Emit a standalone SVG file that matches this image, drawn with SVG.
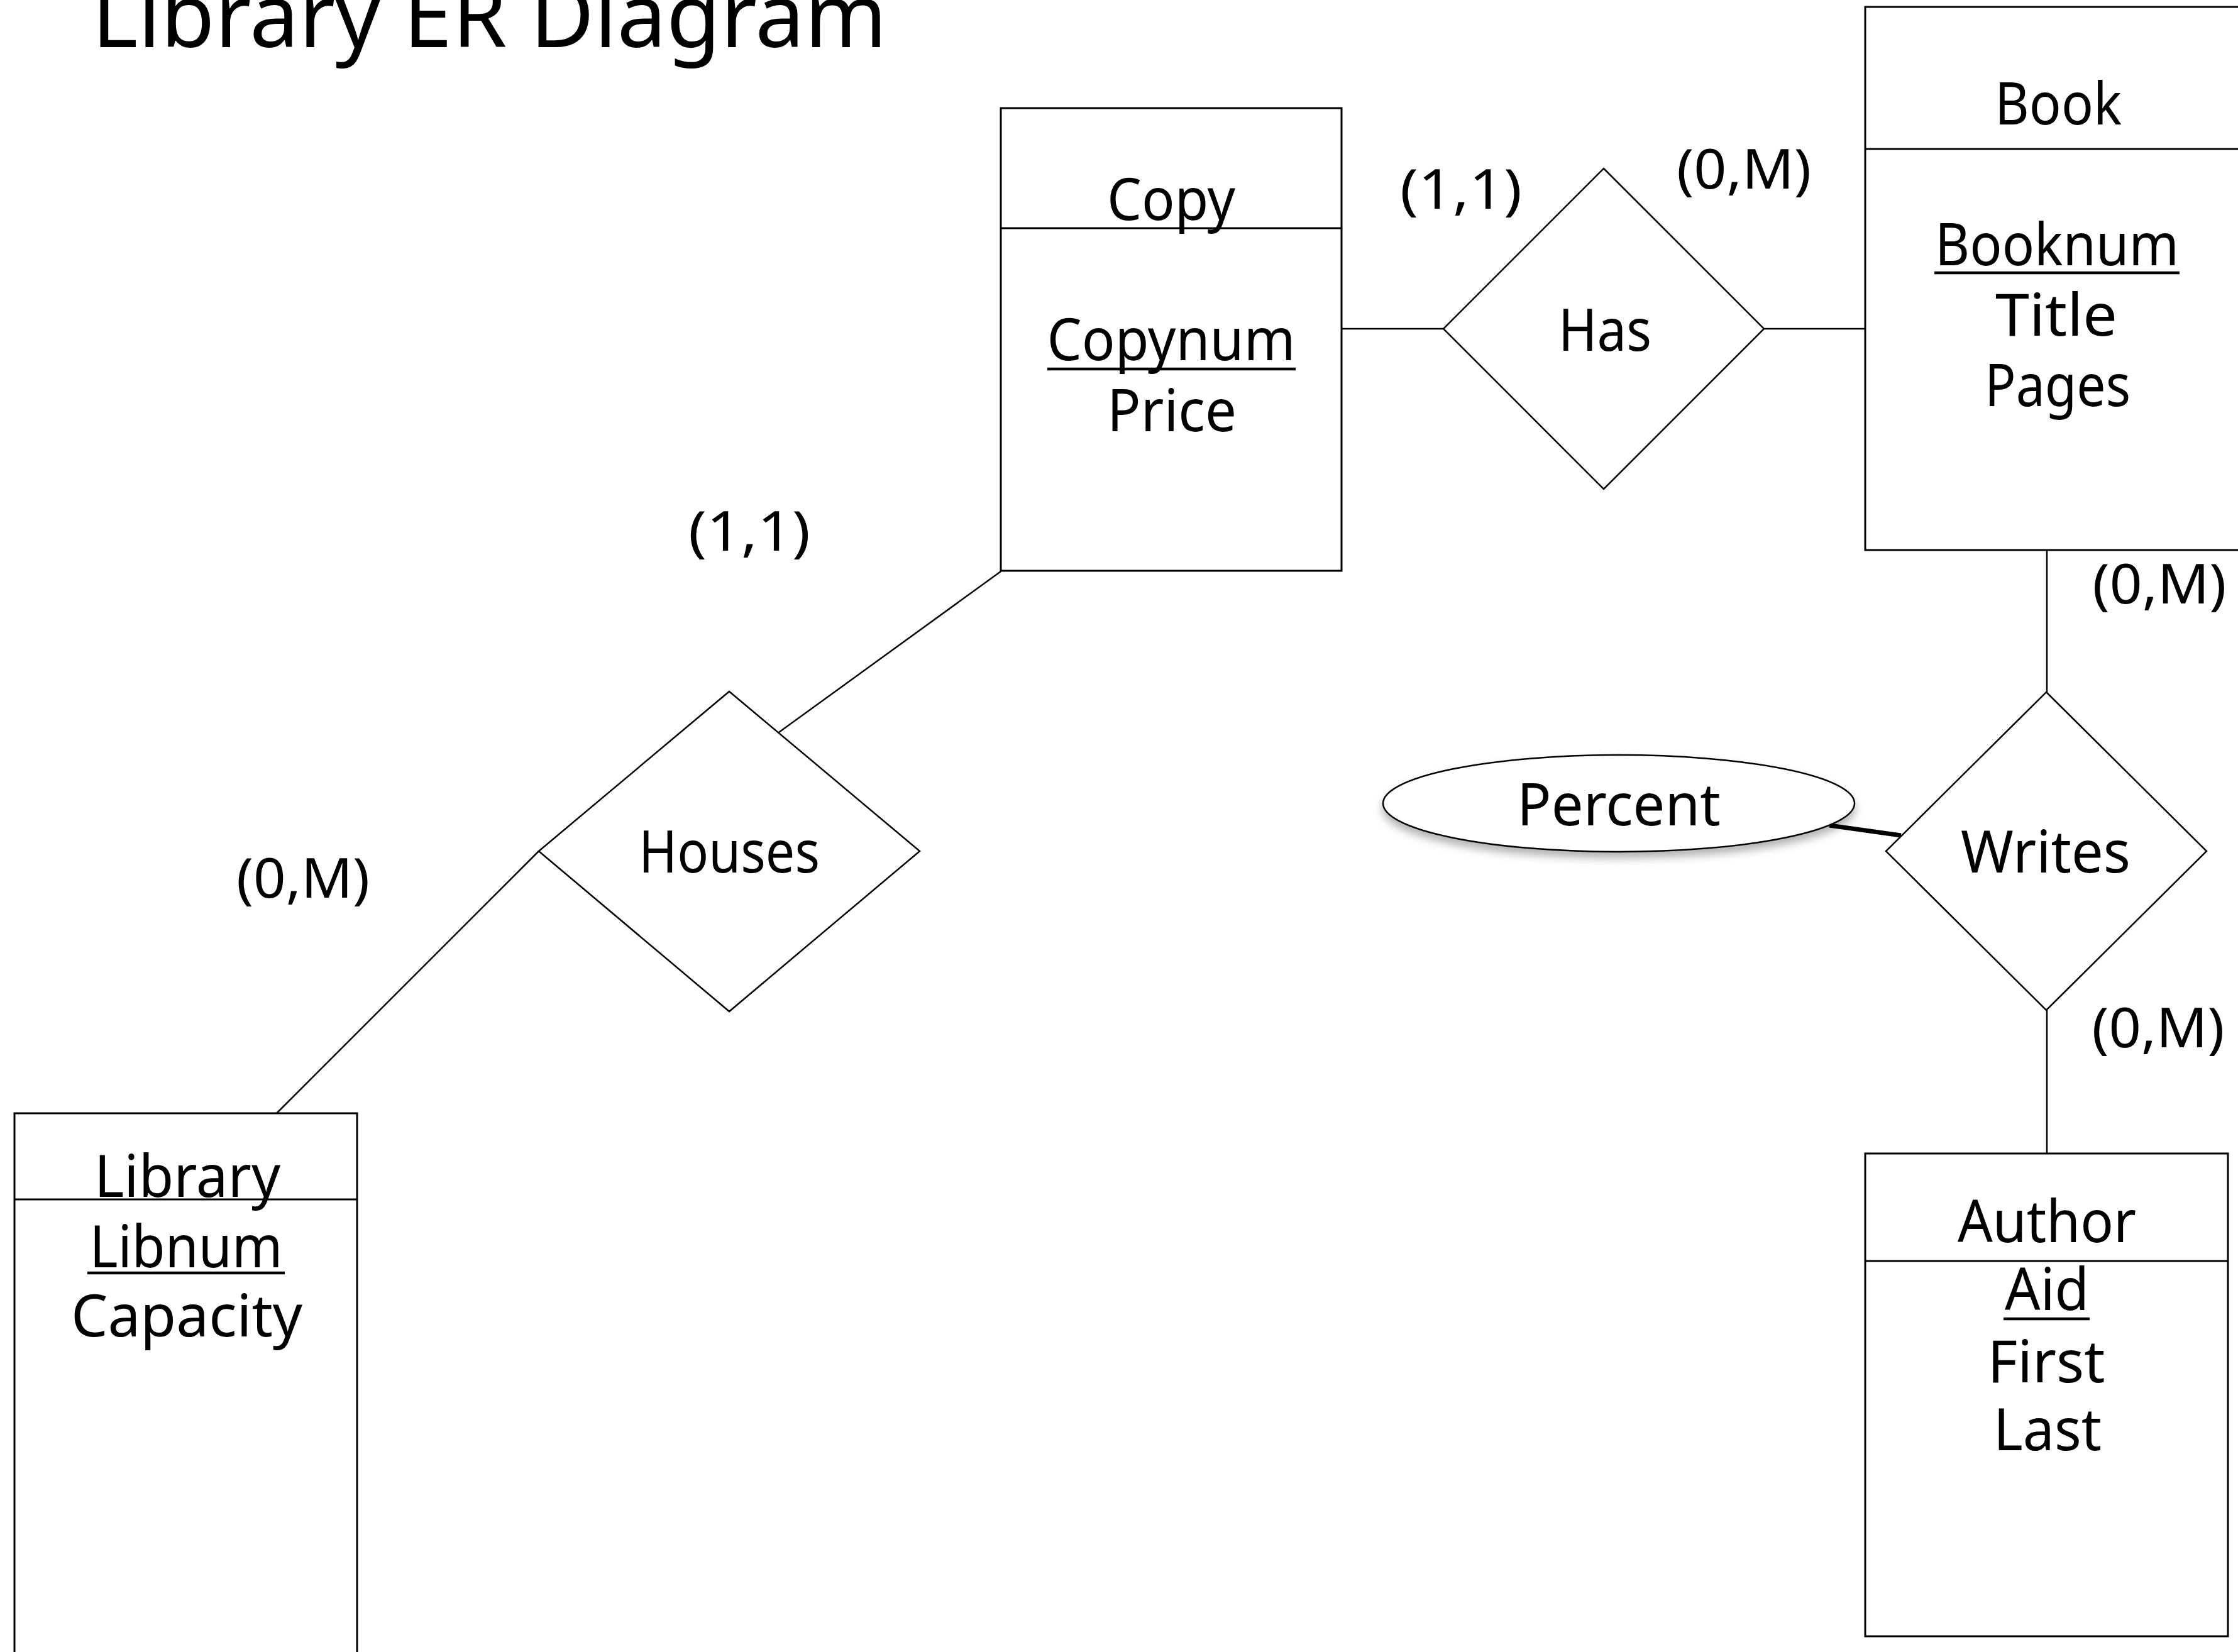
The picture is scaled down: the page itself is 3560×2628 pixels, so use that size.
<svg xmlns="http://www.w3.org/2000/svg" width="3560" height="2628" viewBox="0 0 3560 2628">
  <style>
    .bg { fill: #ffffff; }
    .box { fill: #ffffff; stroke: #000000; stroke-width: 3; }
    .div { stroke: #000000; stroke-width: 3; fill: none; }
    .dia { fill: #ffffff; stroke: #000000; stroke-width: 2.5; }
    .ell { fill: #ffffff; stroke: #000000; stroke-width: 2.5; }
    .conn { stroke: #000000; stroke-width: 2.5; fill: none; }
    .thick { stroke: #000000; stroke-width: 7; fill: none; }
    .ul { stroke: #000000; stroke-width: 4.5; }
    text { font-family: "Noto Sans", "Open Sans", "DejaVu Sans", sans-serif; fill: #000000; }
    .lbl { font-size: 94px; text-anchor: middle; }
    .card { font-size: 88px; text-anchor: middle; }
    .title { font-size: 140px; }
  </style>
  <defs>
    <filter id="shadow" x="-20%" y="-40%" width="140%" height="200%">
      <feDropShadow dx="0" dy="9" stdDeviation="7" flood-color="#000000" flood-opacity="0.3"/>
    </filter>
  </defs>
  <rect class="bg" x="0" y="0" width="3560" height="2628"/>

  <text id="title" class="title" x="146" y="75" textLength="1265" lengthAdjust="spacingAndGlyphs">Library ER Diagram</text>

  <g id="connectors">
    <line class="conn" x1="2134" y1="523" x2="2296" y2="523"/>
    <line class="conn" x1="2806" y1="523" x2="2967" y2="523"/>
    <line class="conn" x1="3256" y1="875" x2="3256" y2="1101"/>
    <line class="conn" x1="3256" y1="1607" x2="3256" y2="1835"/>
    <line class="conn" x1="1592" y1="909" x2="1239" y2="1165"/>
    <line class="conn" x1="857" y1="1354" x2="440" y2="1771"/>
    <line class="thick" x1="2910" y1="1313" x2="3024" y2="1329"/>
  </g>

  <g id="copy">
    <rect class="box" x="1592" y="172" width="542" height="736"/>
    <line class="div" x1="1592" y1="363" x2="2134" y2="363"/>
    <text class="lbl" x="1863" y="350" textLength="204" lengthAdjust="spacingAndGlyphs">Copy</text>
    <text class="lbl" x="1863" y="573" textLength="395" lengthAdjust="spacingAndGlyphs">Copynum</text>
    <line class="ul" x1="1666" y1="587" x2="2061" y2="587"/>
    <text class="lbl" x="1864" y="686" textLength="206" lengthAdjust="spacingAndGlyphs">Price</text>
  </g>

  <g id="has">
    <polygon class="dia" points="2551,268 2806,523 2551,778 2296,523"/>
    <text class="lbl" x="2553" y="558" textLength="148" lengthAdjust="spacingAndGlyphs">Has</text>
  </g>

  <g id="book">
    <rect class="box" x="2967" y="11" width="616" height="864"/>
    <line class="div" x1="2967" y1="237" x2="3583" y2="237"/>
    <text class="lbl" x="3274" y="198" textLength="202" lengthAdjust="spacingAndGlyphs">Book</text>
    <text class="lbl" x="3272" y="422" textLength="388" lengthAdjust="spacingAndGlyphs">Booknum</text>
    <line class="ul" x1="3077" y1="434" x2="3467" y2="434"/>
    <text class="lbl" x="3271" y="534" textLength="194" lengthAdjust="spacingAndGlyphs">Title</text>
    <text class="lbl" x="3273" y="646" textLength="232" lengthAdjust="spacingAndGlyphs">Pages</text>
  </g>

  <g id="writes">
    <polygon class="dia" points="3255,1101 3510,1354 3255,1607 3000,1354"/>
    <text class="lbl" x="3254" y="1388" textLength="270" lengthAdjust="spacingAndGlyphs">Writes</text>
  </g>

  <g id="percent" filter="url(#shadow)">
    <ellipse class="ell" cx="2575" cy="1278" rx="375" ry="77"/>
    <text class="lbl" x="2575" y="1313" textLength="324" lengthAdjust="spacingAndGlyphs">Percent</text>
  </g>

  <g id="author">
    <rect class="box" x="2967" y="1835" width="577" height="768"/>
    <line class="div" x1="2967" y1="2006" x2="3544" y2="2006"/>
    <text class="lbl" x="3256" y="1976" textLength="284" lengthAdjust="spacingAndGlyphs">Author</text>
    <text class="lbl" x="3256" y="2084" textLength="134" lengthAdjust="spacingAndGlyphs">Aid</text>
    <line class="ul" x1="3187" y1="2098" x2="3324" y2="2098"/>
    <text class="lbl" x="3255" y="2199" textLength="187" lengthAdjust="spacingAndGlyphs">First</text>
    <text class="lbl" x="3257" y="2307" textLength="172" lengthAdjust="spacingAndGlyphs">Last</text>
  </g>

  <g id="houses">
    <polygon class="dia" points="1160,1100 1463,1354 1160,1609 857,1354"/>
    <text class="lbl" x="1160" y="1388" textLength="288" lengthAdjust="spacingAndGlyphs">Houses</text>
  </g>

  <g id="library">
    <rect class="box" x="23" y="1771" width="545" height="930"/>
    <line class="div" x1="23" y1="1908" x2="568" y2="1908"/>
    <text class="lbl" x="298" y="1904" textLength="296" lengthAdjust="spacingAndGlyphs">Library</text>
    <text class="lbl" x="296" y="2016" textLength="307" lengthAdjust="spacingAndGlyphs">Libnum</text>
    <line class="ul" x1="139" y1="2025" x2="453" y2="2025"/>
    <text class="lbl" x="297" y="2126" textLength="368" lengthAdjust="spacingAndGlyphs">Capacity</text>
  </g>

  <g id="cardinalities">
    <text class="card" x="2324" y="332" textLength="194" lengthAdjust="spacingAndGlyphs">(1,1)</text>
    <text class="card" x="2774" y="300" textLength="214" lengthAdjust="spacingAndGlyphs">(0,M)</text>
    <text class="card" x="3435" y="960" textLength="213" lengthAdjust="spacingAndGlyphs">(0,M)</text>
    <text class="card" x="3433" y="1666" textLength="211" lengthAdjust="spacingAndGlyphs">(0,M)</text>
    <text class="card" x="1192" y="876" textLength="194" lengthAdjust="spacingAndGlyphs">(1,1)</text>
    <text class="card" x="482" y="1428" textLength="212" lengthAdjust="spacingAndGlyphs">(0,M)</text>
  </g>
</svg>
